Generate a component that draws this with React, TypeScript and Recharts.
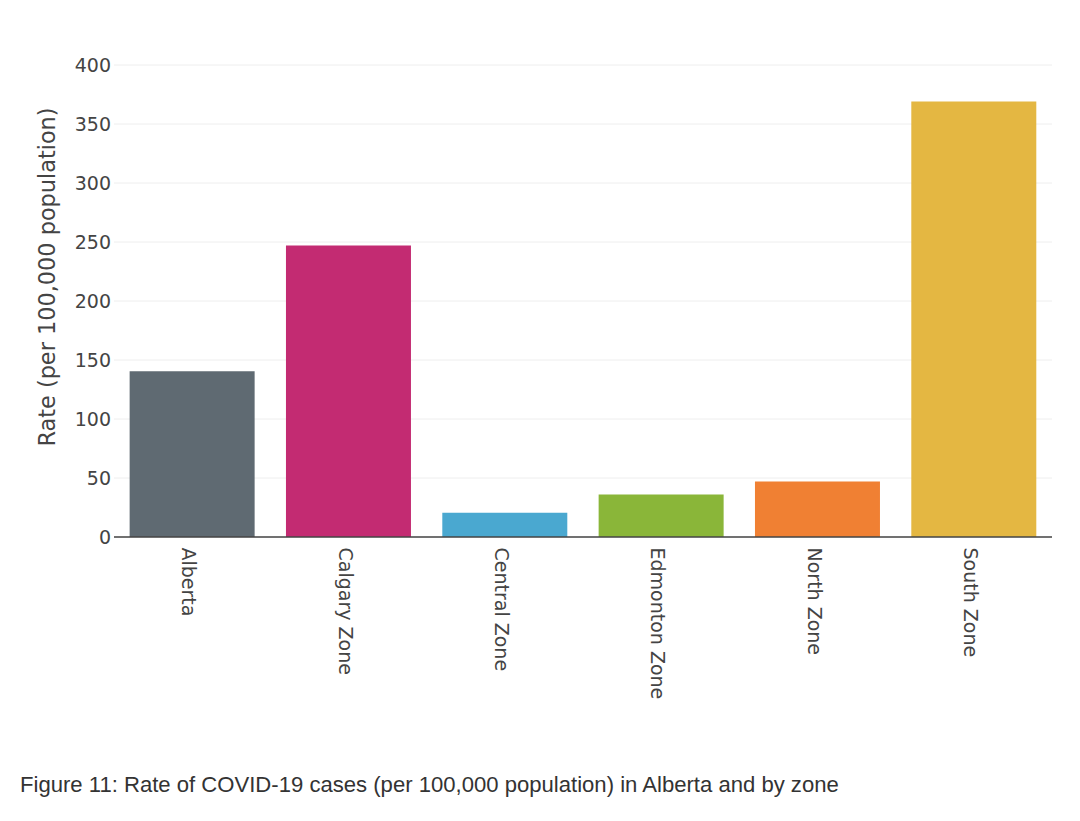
import React from "react";
import { BarChart, Bar, XAxis, YAxis, CartesianGrid, Cell } from "recharts";

const categories = ["Alberta", "Calgary Zone", "Central Zone", "Edmonton Zone", "North Zone", "South Zone"];
const rates = [140.5, 247, 20.5, 36, 47, 369];
const colors = ["#5f6a72", "#c32b72", "#4aa8d0", "#8ab639", "#f08033", "#e4b742"];
const yTicks = [0, 50, 100, 150, 200, 250, 300, 350, 400];
const data = categories.map((zone, i) => ({ zone, rate: rates[i] }));

const FONT = "'DejaVu Sans', sans-serif";

const XTick = (props: any) => {
  const { x, y, payload } = props;
  return (
    <text
      transform={`translate(${x - 3}, ${y - 5.5}) rotate(90)`}
      x={0}
      y={0}
      dy="0.36em"
      textAnchor="start"
      fontFamily={FONT}
      fontSize={19}
      fill="#444"
    >
      {payload.value}
    </text>
  );
};

export default function App() {
  return (
    <div style={{ position: "absolute", left: 0, top: 0, width: 1080, height: 821, background: "#fff", overflow: "hidden" }}>
      <BarChart
        width={1080}
        height={821}
        data={data}
        margin={{ top: 65, right: 28, bottom: 0, left: 0 }}
        barCategoryGap="10%"
      >
        <CartesianGrid horizontal vertical={false} stroke="#eeeeee" strokeWidth={1} />
        <XAxis
          dataKey="zone"
          height={284}
          tick={<XTick />}
          tickLine={false}
          tickMargin={10}
          interval={0}
          axisLine={{ stroke: "#444", strokeWidth: 1.3 }}
        />
        <YAxis
          width={114}
          domain={[0, 400]}
          ticks={yTicks}
          axisLine={false}
          tickLine={false}
          tickSize={0}
          tickMargin={3}
          tick={{ fontFamily: FONT, fontSize: 19, fill: "#444" }}
          label={{
            value: "Rate (per 100,000 population)",
            angle: -90,
            position: "insideLeft",
            dx: 42,
            dy: -24,
            style: { fontFamily: FONT, fontSize: 22.4, fill: "#444", textAnchor: "middle" },
          }}
        />
        <Bar dataKey="rate" isAnimationActive={false}>
          {data.map((d, i) => (
            <Cell key={d.zone} fill={colors[i]} />
          ))}
        </Bar>
      </BarChart>
      <div
        style={{
          position: "absolute",
          left: 20,
          top: 772,
          fontFamily: "'Liberation Sans', Arial, sans-serif",
          fontSize: 22.1,
          lineHeight: "26px",
          color: "#333",
          whiteSpace: "nowrap",
        }}
      >
        Figure 11: Rate of COVID-19 cases (per 100,000 population) in Alberta and by zone
      </div>
    </div>
  );
}
